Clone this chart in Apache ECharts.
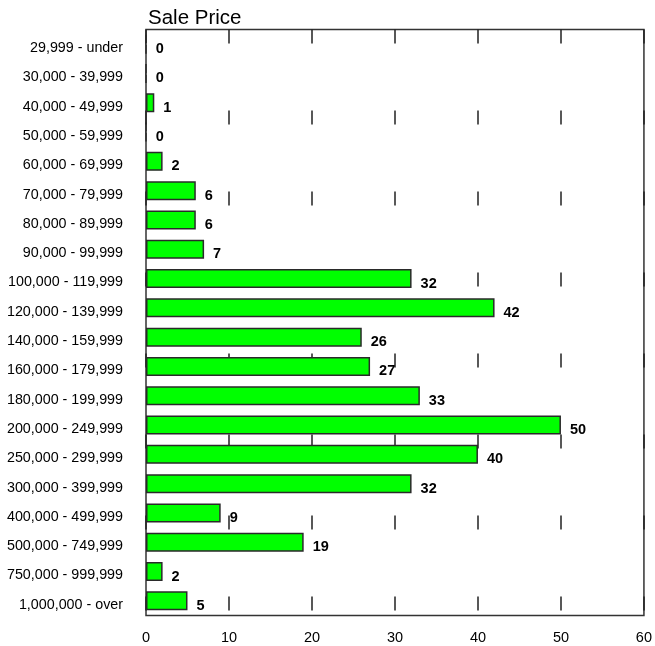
<!DOCTYPE html>
<html><head><meta charset="utf-8">
<script src="https://cdn.jsdelivr.net/npm/echarts@6/dist/echarts.min.js"></script>
<style>html,body{margin:0;padding:0;background:#fff}#c{width:655px;height:646px}</style>
</head><body><div id="c"></div>
<script>
const title = 'Sale Price';
const categories = ['29,999 - under','30,000 - 39,999','40,000 - 49,999','50,000 - 59,999','60,000 - 69,999','70,000 - 79,999','80,000 - 89,999','90,000 - 99,999','100,000 - 119,999','120,000 - 139,999','140,000 - 159,999','160,000 - 179,999','180,000 - 199,999','200,000 - 249,999','250,000 - 299,999','300,000 - 399,999','400,000 - 499,999','500,000 - 749,999','750,000 - 999,999','1,000,000 - over'];
const counts = [0,0,1,0,2,6,6,7,32,42,26,27,33,50,40,32,9,19,2,5];
const xMin = 0, xMax = 60, xStep = 10;

const FF = 'Liberation Sans, Arial, sans-serif';
const chart = echarts.init(document.getElementById('c'), null, {renderer:'canvas'});
chart.setOption({
  animation:false,
  backgroundColor:'#fff',
  title:{text:title,left:143,top:3,textStyle:{fontFamily:FF,fontSize:20.5,fontWeight:'normal',color:'#000'}},
  grid:{left:146,right:9,top:29.5,bottom:30.5,show:true,borderColor:'#333',borderWidth:1.5,backgroundColor:'#fff'},
  xAxis:{type:'value',min:xMin,max:xMax,interval:xStep,
    axisLine:{show:false},axisTick:{show:false},
    axisLabel:{margin:15,color:'#000',fontFamily:FF,fontSize:14.5},
    splitLine:{show:true,lineStyle:{color:'#222',width:1.5,type:[14,67]}}},
  yAxis:{type:'category',data:categories,inverse:true,
    axisLine:{show:false},
    axisTick:{show:true,inside:true,alignWithLabel:true,length:8,lineStyle:{color:'#fff',width:1.5}},
    axisLabel:{margin:23,color:'#000',
      formatter:function(v){return '{a|'+v+'}';},
      rich:{a:{fontFamily:FF,fontSize:14.3,color:'#000',padding:[8,0,0,0]}}}},
  series:[{type:'bar',data:counts,barCategoryGap:'35%',
    itemStyle:{color:'#00ff00',borderColor:'#2a2a2a',borderWidth:1.5},
    label:{show:true,position:'right',distance:9,offset:[0,5],color:'#000',fontWeight:'bold',fontFamily:FF,fontSize:14.5}}]
});
</script></body></html>
